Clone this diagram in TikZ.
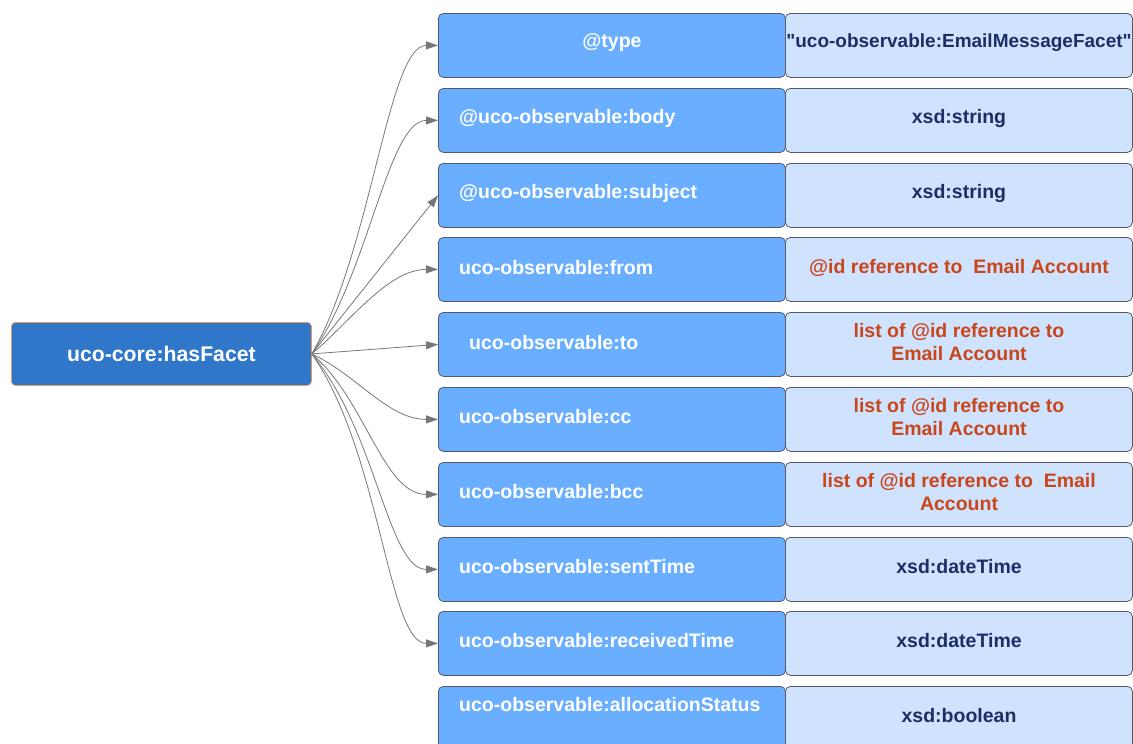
\documentclass[tikz,border=0pt]{standalone}
\usepackage{fontspec}
\setmainfont{Liberation Sans}[Ligatures=TeXOff]
\usetikzlibrary{arrows.meta}
\definecolor{hubfill}{HTML}{3077C9}
\definecolor{hubline}{HTML}{E89A5C}
\definecolor{keyfill}{HTML}{6AAFFF}
\definecolor{valfill}{HTML}{CFE3FF}
\definecolor{boxline}{HTML}{55596A}
\definecolor{navy}{HTML}{1B2E66}
\definecolor{rust}{HTML}{C9461A}
\definecolor{wire}{HTML}{777777}
\tikzset{
  hubbox/.style={draw=hubline, fill=hubfill, rounded corners=4pt, line width=0.8pt,
    minimum width=300pt, minimum height=63pt, anchor=north west, inner sep=0pt},
  keybox/.style={draw=boxline, fill=keyfill, rounded corners=5pt, line width=0.8pt,
    minimum width=347pt, minimum height=64pt, anchor=north west, inner sep=0pt},
  valbox/.style={draw=boxline, fill=valfill, rounded corners=5pt, line width=0.8pt,
    minimum width=347pt, minimum height=64pt, anchor=north west, inner sep=0pt},
  keytext/.style={text=white, font=\fontsize{19.5}{24}\selectfont\bfseries, inner sep=0pt},
  valtext/.style={text=navy, font=\fontsize{19.5}{24}\selectfont\bfseries, inner sep=0pt, align=center},
  reftext/.style={text=rust, font=\fontsize{19.5}{23.5}\selectfont\bfseries, inner sep=0pt, align=center},
  link/.style={draw=wire, line width=0.8pt, -{Triangle[length=12pt,width=8pt]}}
}
\begin{document}
\begin{tikzpicture}[x=1pt,y=-1pt]
\useasboundingbox (0,0) rectangle (1133,744);
\clip (0,0) rectangle (1133,744);

% source node
\node[hubbox] (hub) at (11,322) {};
\node[text=white, font=\fontsize{21.2}{25}\selectfont\bfseries, inner sep=0pt] (hubtext) at (hub.center) {uco-core:hasFacet};

% property / value rows
\node[keybox] (k1) at (438,13) {};
\node[valbox] (v1) at (785,13) {};
\node[keybox] (k2) at (438,88) {};
\node[valbox] (v2) at (785,88) {};
\node[keybox] (k3) at (438,163) {};
\node[valbox] (v3) at (785,163) {};
\node[keybox] (k4) at (438,237) {};
\node[valbox] (v4) at (785,237) {};
\node[keybox] (k5) at (438,312) {};
\node[valbox] (v5) at (785,312) {};
\node[keybox] (k6) at (438,387) {};
\node[valbox] (v6) at (785,387) {};
\node[keybox] (k7) at (438,462) {};
\node[valbox] (v7) at (785,462) {};
\node[keybox] (k8) at (438,537) {};
\node[valbox] (v8) at (785,537) {};
\node[keybox] (k9) at (438,611) {};
\node[valbox] (v9) at (785,611) {};
\node[keybox] (k10) at (438,686) {};
\node[valbox] (v10) at (785,686) {};

% property names
\node[keytext] (t1) at (612,43) {@type};
\node[keytext, anchor=west] (t2) at (459,118) {@uco-observable:body};
\node[keytext, anchor=west] (t3) at (459,193) {@uco-observable:subject};
\node[keytext, anchor=west] (t4) at (459,268) {uco-observable:from};
\node[keytext, anchor=west] (t5) at (469,343) {uco-observable:to};
\node[keytext, anchor=west] (t6) at (459,417) {uco-observable:cc};
\node[keytext, anchor=west] (t7) at (459,492) {uco-observable:bcc};
\node[keytext, anchor=west] (t8) at (459,567) {uco-observable:sentTime};
\node[keytext, anchor=west] (t9) at (459,641) {uco-observable:receivedTime};
\node[keytext, anchor=west] (t10) at (459,705) {uco-observable:allocationStatus};

% value types
\node[valtext, font=\fontsize{19}{24}\selectfont\bfseries] (u1) at (959,43) {"uco-observable:EmailMessageFacet"};
\node[valtext] (u2) at (959,118) {xsd:string};
\node[valtext] (u3) at (959,193) {xsd:string};
\node[reftext] (u4) at (959,268) {@id reference to\ \ Email Account};
\node[reftext] (u5) at (959,342) {list of @id reference to\\Email Account};
\node[reftext] (u6) at (959,417) {list of @id reference to\\Email Account};
\node[reftext] (u7) at (959,492) {list of @id reference to\ \ Email\\Account};
\node[valtext] (u8) at (959,567) {xsd:dateTime};
\node[valtext] (u9) at (959,641) {xsd:dateTime};
\node[valtext] (u10) at (959,716) {xsd:boolean};

% fan-out connectors
\draw[link] (hub.east) to[out=60, in=180, out distance=120pt, in distance=50pt] (k1.west);
\draw[link] (hub.east) to[out=55, in=180, out distance=100pt, in distance=50pt] (k2.west);
\draw[link] (hub.east) -- (k3.west);
\draw[link] (hub.east) to[out=40, in=180, out distance=50pt, in distance=50pt] (k4.west);
\draw[link] (hub.east) -- (k5.west);
\draw[link] (hub.east) to[out=-25, in=180, out distance=50pt, in distance=50pt] (k6.west);
\draw[link] (hub.east) to[out=-40, in=180, out distance=70pt, in distance=55pt] (k7.west);
\draw[link] (hub.east) to[out=-50, in=180, out distance=100pt, in distance=50pt] (k8.west);
\draw[link] (hub.east) to[out=-55, in=180, out distance=120pt, in distance=50pt] (k9.west);
\end{tikzpicture}
\end{document}
